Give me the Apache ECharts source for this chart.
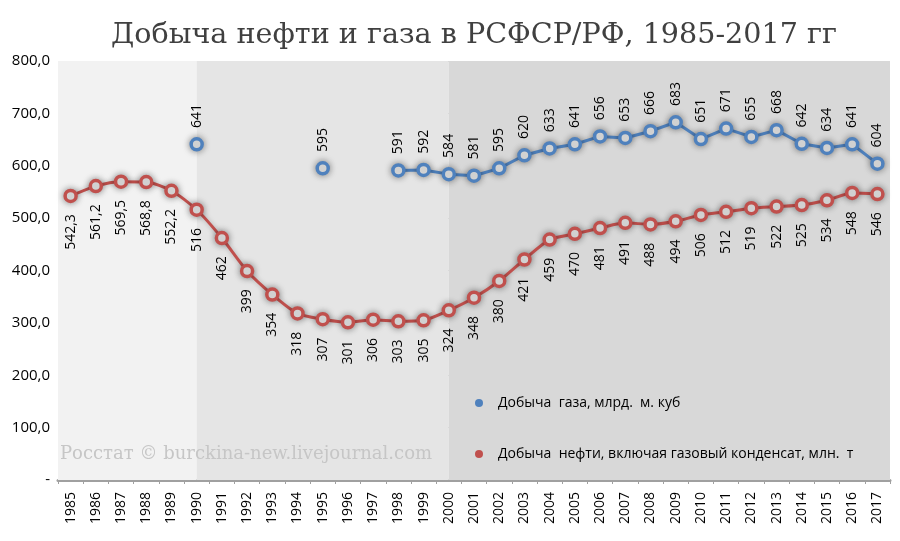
<!DOCTYPE html>
<html><head><meta charset="utf-8">
<script src="https://cdn.jsdelivr.net/npm/echarts@6/dist/echarts.min.js"></script>
<style>html,body{margin:0;padding:0;background:#fff}#c{width:900px;height:541px}</style>
</head><body><div id="c"></div>
<script>
const years = ['1985','1986','1987','1988','1989','1990','1991','1992','1993','1994','1995','1996','1997','1998','1999','2000','2001','2002','2003','2004','2005','2006','2007','2008','2009','2010','2011','2012','2013','2014','2015','2016','2017'];
const gas = [null,null,null,null,null,641,null,null,null,null,595,null,null,591,592,584,581,595,620,633,641,656,653,666,683,651,671,655,668,642,634,641,604];
const oil = [542.3,561.2,569.5,568.8,552.2,516,462,399,354,318,307,301,306,303,305,324,348,380,421,459,470,481,491,488,494,506,512,519,522,525,534,548,546];
const gasName = 'Добыча  газа, млрд.  м. куб';
const oilName = 'Добыча  нефти, включая газовый конденсат, млн.  т';
const yTicks = ['-','100,0','200,0','300,0','400,0','500,0','600,0','700,0','800,0'];
const bands = [[-0.5,5,'#f2f2f2'],[5,15,'#e5e5e5'],[15,32.5,'#d8d8d8']];

const chart = echarts.init(document.getElementById('c'), null, {renderer:'canvas'});
const fmt = v => String(v).replace('.', ',');
const markerStyle = (c) => ({color:'#fff', borderColor:c, borderWidth:3.5, shadowColor:'rgba(0,0,0,0.4)', shadowBlur:7});
chart.setOption({
  animation:false,
  title:{text:'Добыча нефти и газа в РСФСР/РФ, 1985-2017 гг', left:106, top:16,
    textStyle:{fontFamily:'DejaVu Serif', fontWeight:'normal', fontSize:28.6, color:'#404040'}},
  legend:{orient:'vertical', left:470, top:391, itemGap:37, icon:'circle', itemWidth:8, itemHeight:8,
    textStyle:{fontFamily:'Open Sans', fontSize:14, color:'#000', padding:[0,0,0,10]},
    data:[{name:gasName, itemStyle:{color:'#4f81bd', borderWidth:0}},
          {name:oilName, itemStyle:{color:'#c0504d', borderWidth:0}}]},
  graphic:[{type:'text', left:60, top:445, z:100,
    style:{text:'Росстат © burckina-new.livejournal.com', fontFamily:'DejaVu Serif', fontSize:18, fill:'#c6c6c6'}}],
  grid:{left:58, right:10, top:61, bottom:61},
  xAxis:[{type:'category', data:years, boundaryGap:true,
    axisLine:{lineStyle:{color:'#a0a0a0', width:3}},
    axisTick:{show:true, length:4, lineStyle:{color:'#a0a0a0'}},
    axisLabel:{rotate:90, interval:0, fontFamily:'Open Sans', fontSize:14, color:'#000', margin:12}},
   {type:'value', min:-0.5, max:32.5, show:false}],
  yAxis:{type:'value', min:0, max:800, interval:100,
    axisLine:{show:false}, axisTick:{show:false},
    axisLabel:{fontFamily:'Open Sans', fontSize:15, color:'#000', margin:8,
      formatter:(v)=>yTicks[Math.round(v/100)]},
    splitLine:{lineStyle:{color:'#b0b0b0', type:[8,5], width:1}}},
  series:[
    {type:'line', xAxisIndex:1, data:[], silent:true, z:0,
      markArea:{silent:true, itemStyle:{opacity:1},
        data:bands.map(b=>[{xAxis:b[0], itemStyle:{color:b[2]}},{xAxis:b[1]}])}},
    {name:gasName, type:'line', data:gas, connectNulls:false, color:'#4f81bd',
      lineStyle:{width:3, color:'#4f81bd', shadowColor:'rgba(0,0,0,0.25)', shadowBlur:5}, symbol:'circle', symbolSize:11,
      itemStyle:markerStyle('#4f81bd'),
      label:{show:true, position:'top', rotate:90, align:'left', verticalAlign:'middle', distance:9,
        fontFamily:'Open Sans', fontSize:14, color:'#000', formatter:p=>fmt(p.value)}},
    {name:oilName, type:'line', data:oil, smooth:0.25, color:'#c0504d',
      lineStyle:{width:3, color:'#c0504d', shadowColor:'rgba(0,0,0,0.25)', shadowBlur:5}, symbol:'circle', symbolSize:11,
      itemStyle:markerStyle('#c0504d'),
      label:{show:true, position:'bottom', rotate:90, align:'right', verticalAlign:'middle', distance:11,
        fontFamily:'Open Sans', fontSize:14, color:'#000', formatter:p=>fmt(p.value)}}
  ]
});
</script></body></html>
